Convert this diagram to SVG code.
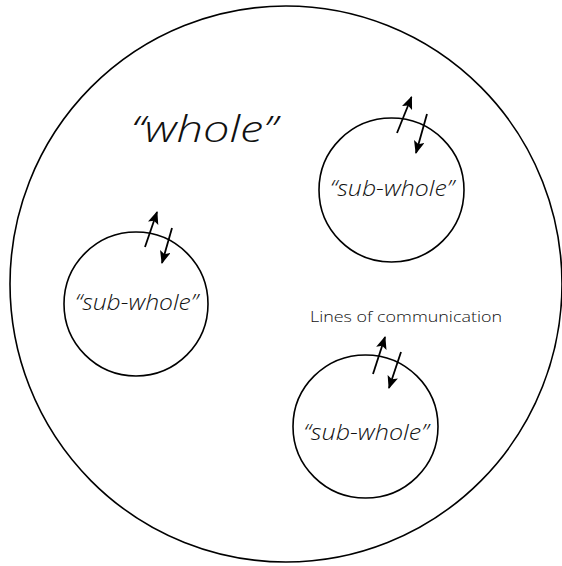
<svg xmlns="http://www.w3.org/2000/svg" width="562" height="566" viewBox="0 0 562 566">
<style>
.c{fill:none;stroke:#000;stroke-width:1.6}
.a{stroke:#000;stroke-width:1.8;fill:none;marker-end:url(#ah)}
.t{font-family:"Open Sans","Noto Sans","Liberation Sans",sans-serif;font-style:italic;font-weight:300;fill:#111;text-anchor:middle}
.l{font-family:"Open Sans","Noto Sans","Liberation Sans",sans-serif;font-weight:300;fill:#111;text-anchor:middle;font-size:15px}
</style>
<defs>
<marker id="ah" viewBox="0 0 12 10" refX="11" refY="5" markerWidth="13" markerHeight="11" markerUnits="userSpaceOnUse" orient="auto">
<path d="M0,0 L12,5 L0,10 L2.5,5 Z" fill="#000"/>
</marker>
</defs>
<rect width="562" height="566" fill="#fff"/>
<g id="whole">
<ellipse class="c" cx="286" cy="284" rx="276" ry="278"/>
<text class="t" x="204" y="142" font-size="36" textLength="146" lengthAdjust="spacingAndGlyphs">“whole”</text>
</g>
<g id="sub-whole-1">
<ellipse class="c" cx="391.5" cy="190" rx="72.5" ry="72"/>
<text class="t" x="392" y="196" font-size="22" textLength="124" lengthAdjust="spacingAndGlyphs">“sub-whole”</text>
</g>
<g id="sub-whole-2">
<ellipse class="c" cx="136" cy="304" rx="72" ry="72"/>
<text class="t" x="136.5" y="310" font-size="22" textLength="123" lengthAdjust="spacingAndGlyphs">“sub-whole”</text>
</g>
<g id="sub-whole-3">
<ellipse class="c" cx="365.5" cy="426.5" rx="72.5" ry="71.5"/>
<text class="t" x="366" y="440" font-size="22" textLength="125" lengthAdjust="spacingAndGlyphs">“sub-whole”</text>
</g>
<g id="label">
<text class="l" x="406" y="322" textLength="192" lengthAdjust="spacingAndGlyphs">Lines of communication</text>
</g>
<g id="connectors">
<line class="a" x1="397" y1="133" x2="411.5" y2="97"/>
<line class="a" x1="427" y1="114" x2="416" y2="153"/>
<line class="a" x1="145" y1="247" x2="157" y2="212"/>
<line class="a" x1="172" y1="228" x2="162" y2="263"/>
<line class="a" x1="373" y1="374" x2="385" y2="337"/>
<line class="a" x1="401" y1="352" x2="389" y2="388"/>
</g>
</svg>
